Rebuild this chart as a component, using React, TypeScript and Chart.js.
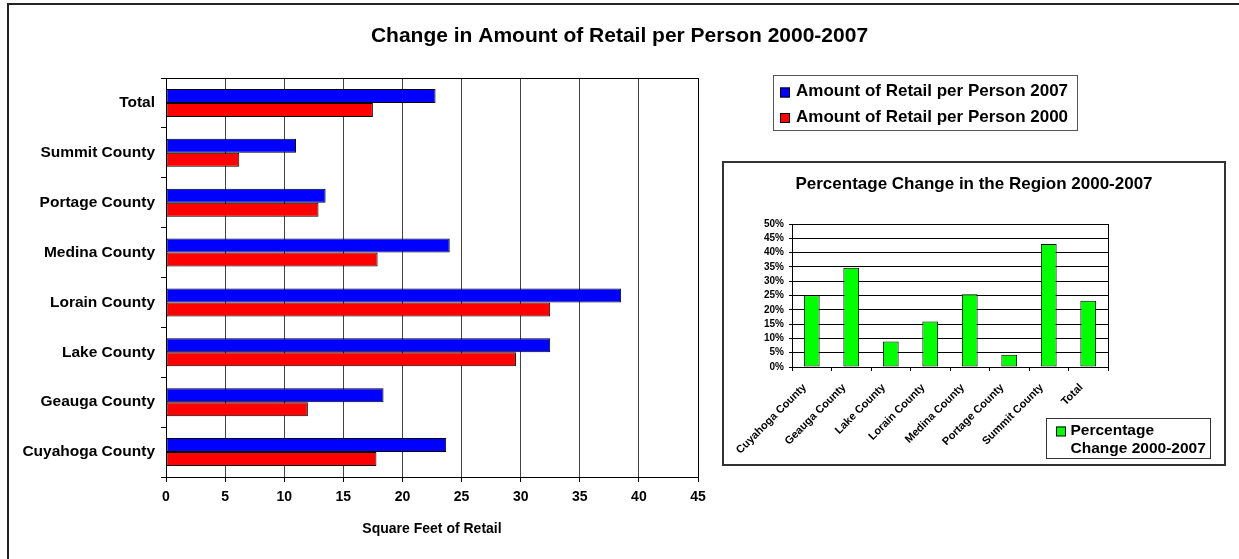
import React, { useEffect, useRef } from "react";
import { Chart, registerables } from "chart.js";

Chart.register(...registerables);

// ---------- data ----------
const categories = [
  "Total",
  "Summit County",
  "Portage County",
  "Medina County",
  "Lorain County",
  "Lake County",
  "Geauga County",
  "Cuyahoga County",
];
const retail2007 = [22.8, 11.0, 13.5, 24.0, 38.5, 32.5, 18.4, 23.7];
const retail2000 = [17.5, 6.2, 12.9, 17.9, 32.5, 29.6, 12.0, 17.8];
const seriesNames = ["Amount of Retail per Person 2007", "Amount of Retail per Person 2000"];
const xMin = 0;
const xMax = 45;
const xStep = 5;

const pctCategories = [
  "Cuyahoga County",
  "Geauga County",
  "Lake County",
  "Lorain County",
  "Medina County",
  "Portage County",
  "Summit County",
  "Total",
];
const pctChange = [25.1, 34.7, 8.9, 15.9, 25.4, 4.3, 43.0, 23.2];
const pctSeriesName = "Percentage Change 2000-2007";
const pctLegendLines = ["Percentage", "Change 2000-2007"];
const pctMin = 0;
const pctMax = 50;
const pctStep = 5;

const mainTitle = "Change in Amount of Retail per Person 2000-2007";
const xAxisTitle = "Square Feet of Retail";
const insetTitle = "Percentage Change in the Region 2000-2007";

const FONT = "'Liberation Sans', Arial, Helvetica, sans-serif";
const BLUE = "#0000FF";
const RED = "#FF0000";
const GREEN = "#00FF00";

// ---------- plugins ----------
const mainDecor = {
  id: "mainDecor",
  beforeDraw(chart: any) {
    const ctx = chart.ctx;
    ctx.save();
    ctx.fillStyle = "#ffffff";
    ctx.fillRect(0, 0, chart.width, chart.height);
    ctx.fillStyle = "#222";
    ctx.fillRect(7, 3, chart.width - 7, 2);
    ctx.fillRect(7, 3, 2, chart.height - 3);
    ctx.restore();
  },
  afterDraw(chart: any) {
    const ctx = chart.ctx;
    const a = chart.chartArea;
    ctx.save();
    // plot border
    ctx.strokeStyle = "#000";
    ctx.lineWidth = 1;
    ctx.strokeRect(
      Math.round(a.left) + 0.5,
      Math.round(a.top) + 0.5,
      Math.round(a.right - a.left),
      Math.round(a.bottom - a.top)
    );
    // x axis title
    ctx.fillStyle = "#000";
    ctx.font = `bold 14px ${FONT}`;
    ctx.textAlign = "center";
    ctx.textBaseline = "alphabetic";
    ctx.fillText(xAxisTitle, (a.left + a.right) / 2, 533);
    // legend
    ctx.strokeStyle = "#555";
    ctx.lineWidth = 1;
    ctx.strokeRect(773.5, 75.5, 304, 55);
    const ds = chart.data.datasets;
    ctx.font = `bold 17px ${FONT}`;
    ctx.textAlign = "left";
    ctx.textBaseline = "middle";
    ds.forEach((d: any, i: number) => {
      const yc = 92.5 + 25.5 * i;
      ctx.fillStyle = d.backgroundColor;
      ctx.fillRect(780, yc - 5, 10, 10);
      ctx.strokeStyle = "#000";
      ctx.strokeRect(780.5, yc - 4.5, 9, 9);
      ctx.fillStyle = "#000";
      ctx.fillText(d.label, 796, yc - 1);
    });
    ctx.restore();
  },
};

const insetDecor = {
  id: "insetDecor",
  beforeDraw(chart: any) {
    const ctx = chart.ctx;
    ctx.save();
    ctx.fillStyle = "#ffffff";
    ctx.fillRect(0, 0, chart.width, chart.height);
    ctx.restore();
  },
  afterDraw(chart: any) {
    const ctx = chart.ctx;
    const a = chart.chartArea;
    ctx.save();
    ctx.strokeStyle = "#000";
    ctx.lineWidth = 1;
    ctx.strokeRect(
      Math.round(a.left) + 0.5,
      Math.round(a.top) + 0.5,
      Math.round(a.right - a.left),
      Math.round(a.bottom - a.top)
    );
    // outer border
    ctx.strokeStyle = "#333";
    ctx.lineWidth = 2;
    ctx.strokeRect(1, 1, chart.width - 2, chart.height - 2);
    // legend
    ctx.strokeStyle = "#333";
    ctx.lineWidth = 1;
    ctx.strokeRect(324.5, 257.5, 164, 40);
    const d = chart.data.datasets[0];
    ctx.fillStyle = d.backgroundColor;
    ctx.fillRect(334, 265.5, 9.5, 9.5);
    ctx.strokeStyle = "#000";
    ctx.strokeRect(334.5, 266, 9, 9);
    ctx.fillStyle = "#000";
    ctx.font = `bold 15.5px ${FONT}`;
    ctx.textAlign = "left";
    ctx.textBaseline = "middle";
    pctLegendLines.forEach((line, i) => {
      ctx.fillText(line, 348.5, 269.6 + 18 * i);
    });
    ctx.restore();
  },
};

export default function App() {
  const mainRef = useRef<HTMLCanvasElement | null>(null);
  const insetRef = useRef<HTMLCanvasElement | null>(null);

  useEffect(() => {
    const main = new Chart(mainRef.current as HTMLCanvasElement, {
      type: "bar",
      data: {
        labels: categories,
        datasets: [
          {
            label: seriesNames[0],
            data: retail2007,
            backgroundColor: BLUE,
            borderColor: "#000",
            borderWidth: 1,
            borderSkipped: false,
            categoryPercentage: 0.56,
            barPercentage: 1,
            yAxisID: "y",
            xAxisID: "x",
          },
          {
            label: seriesNames[1],
            data: retail2000,
            backgroundColor: RED,
            borderColor: "#000",
            borderWidth: 1,
            borderSkipped: false,
            categoryPercentage: 0.56,
            barPercentage: 1,
            yAxisID: "y",
            xAxisID: "x",
          },
        ],
      },
      options: {
        animation: false,
        responsive: false,
        indexAxis: "y",
        layout: { padding: 0 },
        plugins: {
          legend: { display: false },
          tooltip: { enabled: false },
          title: {
            display: true,
            text: mainTitle,
            color: "#000",
            font: { family: FONT, size: 21, weight: "bold" },
            padding: { top: 23.6, bottom: 29.2 },
          },
        },
        scales: {
          x: {
            type: "linear",
            position: "bottom",
            min: xMin,
            max: xMax,
            ticks: {
              stepSize: xStep,
              color: "#000",
              font: { family: FONT, size: 14, weight: "bold" },
              padding: 7,
            },
            grid: { color: "#444", lineWidth: 1, tickLength: 5, tickColor: "#000" },
            border: { color: "#000" },
            afterFit: (s: any) => {
              s.height = 82;
            },
          },
          y: {
            type: "category",
            position: "left",
            ticks: {
              color: "#000",
              font: { family: FONT, size: 15.5, weight: "bold" },
              padding: 6,
            },
            grid: { offset: true, drawOnChartArea: false, tickLength: 5, color: "#000" },
            border: { color: "#000" },
            afterFit: (s: any) => {
              s.width = 166;
            },
          },
          pad: {
            type: "linear",
            position: "right",
            display: true,
            grid: { display: false },
            ticks: { display: false },
            border: { display: false },
            afterFit: (s: any) => {
              s.width = 541;
            },
          },
        },
      } as any,
      plugins: [mainDecor],
    });

    const inset = new Chart(insetRef.current as HTMLCanvasElement, {
      type: "bar",
      data: {
        labels: pctCategories,
        datasets: [
          {
            label: pctSeriesName,
            data: pctChange,
            backgroundColor: GREEN,
            borderColor: "#000",
            borderWidth: 1,
            borderSkipped: false,
            categoryPercentage: 0.4,
            barPercentage: 1,
            yAxisID: "y",
            xAxisID: "x",
          },
        ],
      },
      options: {
        animation: false,
        responsive: false,
        layout: { padding: 0 },
        plugins: {
          legend: { display: false },
          tooltip: { enabled: false },
          title: {
            display: true,
            text: insetTitle,
            color: "#000",
            font: { family: FONT, size: 17, weight: "bold" },
            padding: { top: 12.9, bottom: 29.7 },
          },
        },
        scales: {
          x: {
            type: "category",
            position: "bottom",
            ticks: {
              color: "#000",
              font: { family: FONT, size: 11, weight: "bold" },
              minRotation: 45,
              maxRotation: 45,
              autoSkip: false,
              padding: 10,
              labelOffset: -7,
            },
            grid: { offset: true, drawOnChartArea: false, tickLength: 4, color: "#000" },
            border: { color: "#000" },
            afterFit: (s: any) => {
              s.height = 99;
            },
          },
          y: {
            type: "linear",
            position: "left",
            min: pctMin,
            max: pctMax,
            ticks: {
              stepSize: pctStep,
              autoSkip: false,
              color: "#000",
              font: { family: FONT, size: 10, weight: "bold" },
              padding: 5,
              callback: (v: any) => v + "%",
            },
            grid: { color: "#000", tickLength: 3 },
            border: { color: "#000" },
            afterFit: (s: any) => {
              s.width = 70;
            },
          },
          pad: {
            type: "linear",
            position: "right",
            display: true,
            grid: { display: false },
            ticks: { display: false },
            border: { display: false },
            afterFit: (s: any) => {
              s.width = 118;
            },
          },
        },
      } as any,
      plugins: [insetDecor],
    });

    return () => {
      main.destroy();
      inset.destroy();
    };
  }, []);

  return (
    <div
      style={{
        position: "absolute",
        left: 0,
        top: 0,
        width: 1239,
        height: 559,
        background: "#fff",
        overflow: "hidden",
      }}
    >
      <canvas
        ref={mainRef}
        width={1239}
        height={559}
        style={{ position: "absolute", left: 0, top: 0, width: 1239, height: 559 }}
      />
      <canvas
        ref={insetRef}
        width={504}
        height={305}
        style={{ position: "absolute", left: 722, top: 161, width: 504, height: 305 }}
      />
    </div>
  );
}
